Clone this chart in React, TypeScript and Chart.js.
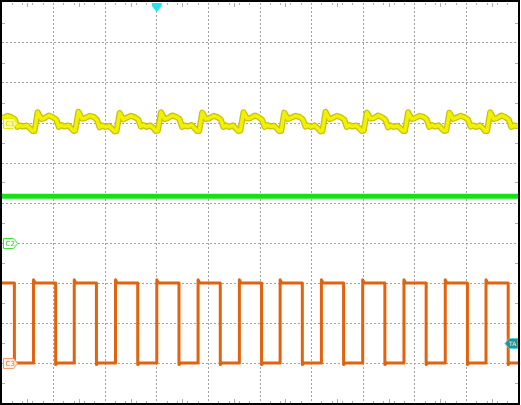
import React, { useEffect, useRef } from "react";
import { Chart, registerables } from "chart.js";

Chart.register(...registerables);

// Horizontal axis: divisions 0..10, vertical axis: divisions -5..5
const gridX = [1, 2, 3, 4, 5, 6, 7, 8, 9];
const gridY = [-4, -3, -2, -1, 0, 1, 2, 3, 4];

// CH1 (yellow) trace
const yellowX = [
  0.0, 0.11, 0.19, 0.25, 0.3, 0.35, 0.41, 0.48, 0.54, 0.59,
  0.63, 0.69, 0.76, 0.82, 0.91, 0.99, 1.05, 1.1, 1.15, 1.21, 1.28, 1.34, 1.39,
  1.42, 1.48, 1.55, 1.61, 1.7, 1.78, 1.84, 1.89, 1.94, 2.0, 2.07, 2.13, 2.18,
  2.22, 2.28, 2.35, 2.41, 2.5, 2.58, 2.64, 2.69, 2.74, 2.8, 2.87, 2.93, 2.98,
  3.02, 3.08, 3.15, 3.21, 3.3, 3.38, 3.44, 3.49, 3.54, 3.6, 3.67, 3.73, 3.78,
  3.82, 3.88, 3.95, 4.01, 4.1, 4.18, 4.24, 4.29, 4.34, 4.4, 4.47, 4.53, 4.58,
  4.62, 4.68, 4.75, 4.81, 4.9, 4.98, 5.04, 5.09, 5.14, 5.2, 5.27, 5.33, 5.37,
  5.41, 5.47, 5.54, 5.6, 5.69, 5.77, 5.83, 5.88, 5.93, 5.99, 6.06, 6.12, 6.17,
  6.21, 6.27, 6.34, 6.4, 6.49, 6.57, 6.63, 6.68, 6.73, 6.79, 6.86, 6.92, 6.97,
  7.01, 7.07, 7.14, 7.2, 7.29, 7.37, 7.43, 7.48, 7.53, 7.59, 7.66, 7.72, 7.77,
  7.81, 7.87, 7.94, 8.0, 8.09, 8.17, 8.23, 8.28, 8.33, 8.39, 8.46, 8.52, 8.57,
  8.61, 8.67, 8.74, 8.8, 8.89, 8.97, 9.03, 9.08, 9.13, 9.19, 9.26, 9.32, 9.36,
  9.4, 9.46, 9.53, 9.59, 9.68, 9.76, 9.82, 9.87, 9.92, 9.98, 10.0,
];
const yellowY = [
  2.12, 2.18, 2.14, 2.09, 1.9, 1.94, 1.91, 1.94, 1.87, 1.8,
  1.8, 2.27, 2.1, 2.12, 2.19, 2.14, 2.09, 1.9, 1.95, 1.91, 1.94, 1.87, 1.8,
  1.81, 2.28, 2.11, 2.12, 2.18, 2.15, 2.08, 1.89, 1.94, 1.9, 1.93, 1.86, 1.79,
  1.8, 2.25, 2.09, 2.13, 2.18, 2.14, 2.09, 1.91, 1.95, 1.9, 1.94, 1.88, 1.8,
  1.81, 2.27, 2.1, 2.12, 2.19, 2.15, 2.1, 1.9, 1.94, 1.91, 1.95, 1.87, 1.8,
  1.8, 2.26, 2.1, 2.11, 2.18, 2.14, 2.09, 1.9, 1.94, 1.9, 1.94, 1.87, 1.8,
  1.81, 2.27, 2.11, 2.12, 2.19, 2.14, 2.08, 1.9, 1.95, 1.91, 1.93, 1.86, 1.8,
  1.8, 2.26, 2.1, 2.13, 2.18, 2.15, 2.09, 1.91, 1.94, 1.9, 1.94, 1.87, 1.79,
  1.8, 2.28, 2.1, 2.12, 2.18, 2.14, 2.09, 1.9, 1.95, 1.91, 1.94, 1.87, 1.8,
  1.81, 2.26, 2.11, 2.12, 2.19, 2.14, 2.08, 1.89, 1.94, 1.9, 1.93, 1.87, 1.8,
  1.8, 2.27, 2.1, 2.12, 2.18, 2.15, 2.09, 1.9, 1.95, 1.91, 1.94, 1.86, 1.8,
  1.81, 2.26, 2.1, 2.13, 2.18, 2.14, 2.09, 1.91, 1.94, 1.9, 1.94, 1.87, 1.8,
  1.8, 2.27, 2.1, 2.12, 2.19, 2.14, 2.09, 1.9, 1.94, 1.92, 1.93,
];

// CH2 (green) trace
const greenX = [0, 10];
const greenY = [0.17, 0.17];

// CH3 (orange) square wave: edge times and levels
const orangeRising = [0.61, 1.4, 2.2, 3.0, 3.8, 4.6, 5.39, 6.19, 6.99, 7.79, 8.59, 9.38];
const orangeFalling = [0.24, 1.04, 1.83, 2.63, 3.43, 4.23, 5.03, 5.82, 6.62, 7.42, 8.22, 9.02, 9.81];
const orangeHigh = -2.0;
const orangeLow = -4.0;
const orangeOvershoot = 0.08;

// Channel reference markers and trigger
const channelLabels = ["C1", "C2", "C3"];
const channelOffsets = [2.0, -1.0, -4.0];
const triggerTime = 3.0;
const triggerLevel = -3.5;

function buildOrange() {
  const edges = [
    ...orangeRising.map((x) => ({ x, up: true })),
    ...orangeFalling.map((x) => ({ x, up: false })),
  ].sort((a, b) => a.x - b.x);
  const pts: { x: number; y: number }[] = [{ x: 0, y: orangeHigh }];
  for (const e of edges) {
    if (e.up) {
      pts.push({ x: e.x, y: orangeLow });
      pts.push({ x: e.x, y: orangeHigh + orangeOvershoot });
      pts.push({ x: e.x + 0.03, y: orangeHigh });
    } else {
      pts.push({ x: e.x, y: orangeHigh });
      pts.push({ x: e.x, y: orangeLow - orangeOvershoot * 0.5 });
      pts.push({ x: e.x + 0.03, y: orangeLow });
    }
  }
  pts.push({ x: 10, y: orangeLow });
  return pts;
}

const tagStyles = [
  { fill: "#fafa9c", stroke: "#e6e600", text: "#d8d800" },
  { fill: "#ffffff", stroke: "#3ee03e", text: "#2ccc2c" },
  { fill: "#fff1e6", stroke: "#f2a06a", text: "#e87a30" },
];

const scopePlugin = {
  id: "scopeDecor",
  beforeDatasetsDraw(chart: any) {
    const { ctx, chartArea: a, scales } = chart;
    const xs = scales.x;
    const ys = scales.y;
    ctx.save();
    ctx.fillStyle = "#ffffff";
    ctx.fillRect(0, 0, chart.width, chart.height);
    ctx.strokeStyle = "#a4a4a4";
    ctx.lineWidth = 1;
    ctx.setLineDash([2, 2]);
    for (const v of gridX) {
      const px = Math.floor(xs.getPixelForValue(v)) + 0.5;
      ctx.beginPath();
      ctx.moveTo(px, a.top);
      ctx.lineTo(px, a.bottom);
      ctx.stroke();
    }
    for (const v of gridY) {
      const py = Math.floor(ys.getPixelForValue(v)) + 0.5;
      ctx.beginPath();
      ctx.moveTo(a.left, py);
      ctx.lineTo(a.right, py);
      ctx.stroke();
    }
    ctx.setLineDash([]);
    // edge ticks
    ctx.strokeStyle = "#b0b0b0";
    for (let i = 1; i < 50; i++) {
      if (i % 5 === 0) continue;
      const px = Math.floor(xs.getPixelForValue(i * 0.2)) + 0.5;
      ctx.beginPath();
      ctx.moveTo(px, a.top);
      ctx.lineTo(px, a.top + 2);
      ctx.moveTo(px, a.bottom);
      ctx.lineTo(px, a.bottom - 2);
      ctx.stroke();
    }
    for (let i = 0; i < 10; i++) {
      const px = Math.floor(xs.getPixelForValue(i + 0.5)) + 0.5;
      ctx.beginPath();
      ctx.moveTo(px, a.top);
      ctx.lineTo(px, a.top + 4);
      ctx.moveTo(px, a.bottom);
      ctx.lineTo(px, a.bottom - 4);
      ctx.stroke();
      const py = Math.floor(ys.getPixelForValue(i - 4.5)) + 0.5;
      ctx.beginPath();
      ctx.moveTo(a.left, py);
      ctx.lineTo(a.left + 3, py);
      ctx.moveTo(a.right, py);
      ctx.lineTo(a.right - 3, py);
      ctx.stroke();
    }
    ctx.restore();
  },
  afterDatasetsDraw(chart: any) {
    const { ctx, chartArea: a, scales } = chart;
    const xs = scales.x;
    const ys = scales.y;
    ctx.save();
    // channel tags
    ctx.font = "7px 'DejaVu Sans', sans-serif";
    ctx.textBaseline = "middle";
    channelOffsets.forEach((off, i) => {
      const y = Math.round(ys.getPixelForValue(off)) + 0.5;
      const x0 = a.left + 1.5;
      const s = tagStyles[i];
      ctx.beginPath();
      ctx.moveTo(x0, y - 5);
      ctx.lineTo(x0 + 10, y - 5);
      ctx.lineTo(x0 + 14, y);
      ctx.lineTo(x0 + 10, y + 5);
      ctx.lineTo(x0, y + 5);
      ctx.closePath();
      ctx.fillStyle = s.fill;
      ctx.fill();
      ctx.strokeStyle = s.stroke;
      ctx.lineWidth = 1;
      ctx.stroke();
      ctx.fillStyle = s.text;
      ctx.textAlign = "left";
      ctx.fillText(channelLabels[i], x0 + 2, y + 0.5);
    });
    // trigger time marker (top)
    const tx = xs.getPixelForValue(triggerTime);
    ctx.beginPath();
    ctx.moveTo(tx - 5, a.top);
    ctx.lineTo(tx + 5, a.top);
    ctx.lineTo(tx + 5, a.top + 3);
    ctx.lineTo(tx, a.top + 9);
    ctx.lineTo(tx - 5, a.top + 3);
    ctx.closePath();
    ctx.fillStyle = "#27e3ec";
    ctx.fill();
    // trigger level marker (right)
    const ty = Math.round(ys.getPixelForValue(triggerLevel)) + 0.5;
    const rx = a.right;
    ctx.beginPath();
    ctx.moveTo(rx - 13, ty);
    ctx.lineTo(rx - 9, ty - 5);
    ctx.lineTo(rx, ty - 5);
    ctx.lineTo(rx, ty + 5);
    ctx.lineTo(rx - 9, ty + 5);
    ctx.closePath();
    ctx.fillStyle = "#2f8e8e";
    ctx.fill();
    ctx.strokeStyle = "#4fd8d8";
    ctx.stroke();
    ctx.fillStyle = "#c8ffff";
    ctx.font = "6px 'DejaVu Sans', sans-serif";
    ctx.fillText("TA", rx - 9, ty + 0.5);
    // frame
    ctx.fillStyle = "#000000";
    ctx.fillRect(0, 0, 520, 2);
    ctx.fillRect(0, 0, 2, 405);
    ctx.fillRect(0, 403, 520, 2);
    ctx.fillRect(518, 0, 2, 405);
    ctx.restore();
  },
};

export default function App() {
  const ref = useRef<HTMLCanvasElement | null>(null);
  useEffect(() => {
    if (!ref.current) return;
    const yellow = yellowX.map((x, i) => ({ x, y: yellowY[i] }));
    const green = greenX.map((x, i) => ({ x, y: greenY[i] }));
    const orange = buildOrange();
    const common = {
      pointRadius: 0,
      fill: false,
      tension: 0,
      borderJoinStyle: "round" as const,
      borderCapStyle: "butt" as const,
    };
    const chart = new Chart(ref.current, {
      type: "line",
      data: {
        datasets: [
          { ...common, label: "CH1", data: yellow, borderColor: "#f2f200", borderWidth: 3.5, order: 1 },
          { ...common, label: "CH1 edge", data: yellow, borderColor: "#c8c00a", borderWidth: 6, order: 2 },
          { ...common, label: "CH2", data: green, borderColor: "#16e016", borderWidth: 5, order: 3 },
          { ...common, label: "CH3", data: orange, borderColor: "#e2620e", borderWidth: 3, order: 4 },
        ],
      },
      options: {
        responsive: false,
        animation: false,
        devicePixelRatio: 1,
        events: [],
        layout: { padding: { left: 2, top: 3, right: 3, bottom: 2 } },
        plugins: { legend: { display: false }, tooltip: { enabled: false } },
        scales: {
          x: { type: "linear", min: 0, max: 10, display: false },
          y: { type: "linear", min: -5, max: 5, display: false },
        },
      },
      plugins: [scopePlugin],
    });
    return () => chart.destroy();
  }, []);
  return (
    <div style={{ position: "fixed", left: 0, top: 0, width: 521, height: 405, background: "#fff" }}>
      <canvas ref={ref} width={521} height={405} style={{ width: 521, height: 405, display: "block" }} />
    </div>
  );
}
